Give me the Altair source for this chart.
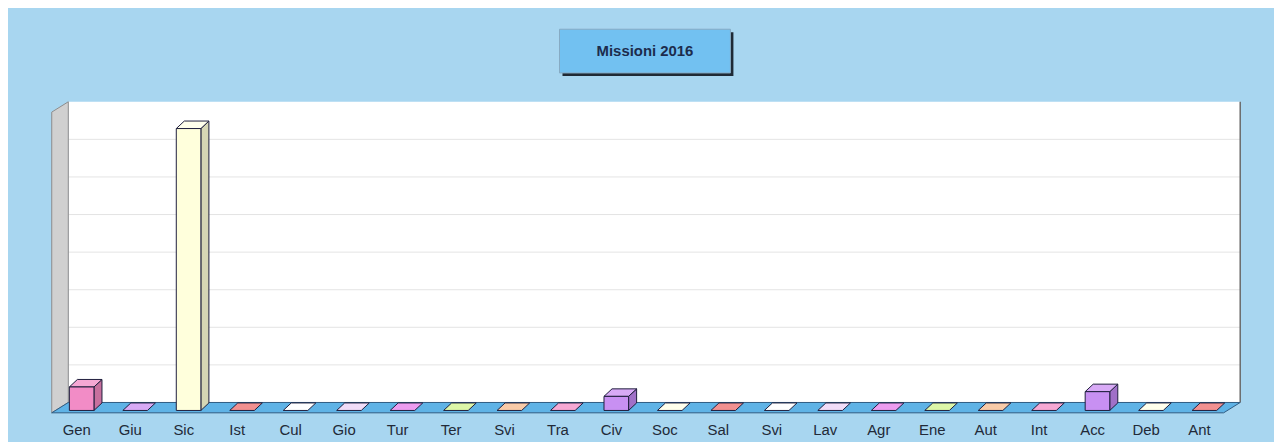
import altair as alt
import pandas as pd

# ---- data ----
categories = ["Gen", "Giu", "Sic", "Ist", "Cul", "Gio", "Tur", "Ter", "Svi", "Tra", "Civ",
              "Soc", "Sal", "Svi", "Lav", "Agr", "Ene", "Aut", "Int", "Acc", "Deb", "Ant"]
values = [5, 0, 60, 0, 0, 0, 0, 0, 0, 0, 3, 0, 0, 0, 0, 0, 0, 0, 0, 4, 0, 0]
grid_values = [8, 16, 24, 32, 40, 48, 56]
title_text = "Missioni 2016"

# ---- styles ----
palette_front = ["#f28cc6", "#c890f2", "#ffffdc", "#ee7070", "#fafaff", "#e8caf6", "#e47ce8", "#c8f084", "#f6b68a"]
palette_side = ["#c8709e", "#a070c8", "#d6d6b4", "#c05858", "#d0d0d8", "#c0a4cc", "#b862bc", "#a0c468", "#c8906c"]
palette_top = ["#f6a8d4", "#d8aaf6", "#ffffec", "#f29090", "#ffffff", "#f0dcf8", "#ec9cf0", "#dcf6a8", "#f8caa8"]
OUTLINE = "#1e1e3c"

# ---- geometry constants (data units) ----
Y_MAX = 64
HW = 0.23          # half bar width
SHIFT = 0.1        # bars sit slightly right of their label
DX, DY = 0.15, 1.6  # bar depth
YB = -1.7          # bar base
X0, X1 = -0.46, 21.77
BOX_DX, BOX_DY = 0.31, 2.2
Y_MIN = -BOX_DY

n = len(categories)
ids = list(range(n))
keys = [str(i % len(palette_front)) for i in ids]
key_domain = [str(i) for i in range(len(palette_front))]

xscale = alt.Scale(domain=[X0, X1], nice=False, zero=False)
yscale = alt.Scale(domain=[Y_MIN, Y_MAX], nice=False, zero=False)
label_array = "[" + ",".join("'" + c + "'" for c in categories) + "]"
xaxis = alt.Axis(values=ids, labelExpr=label_array + "[datum.value]", domain=False, ticks=False,
                 tickSize=0, grid=False, labelPadding=10, labelFontSize=15, labelFont="Liberation Sans",
                 labelColor="#222a38", title=None, labelFlush=False, labelOverlap=False)


def X(field):
    return alt.X(field, type="quantitative", scale=xscale, axis=xaxis)


def Y(field):
    return alt.Y(field, type="quantitative", scale=yscale, axis=None)


# back wall
wall_df = pd.DataFrame({"x": [X0 + BOX_DX], "x2": [X1], "y": [0], "y2": [Y_MAX]})
back_wall = alt.Chart(wall_df).mark_rect(fill="white").encode(
    x=X("x"), x2="x2", y=Y("y"), y2="y2")

grid_df = pd.DataFrame({"y": grid_values, "x": X0 + BOX_DX, "x2": X1})
grid = alt.Chart(grid_df).mark_rule(color="#e4e4e4", strokeWidth=1).encode(
    x=X("x"), x2="x2", y=Y("y"))

right_edge_df = pd.DataFrame({"x": [X1], "y": [0], "y2": [Y_MAX]})
right_edge = alt.Chart(right_edge_df).mark_rule(color="#6a6a6a", strokeWidth=1.5).encode(
    x=X("x"), y=Y("y"), y2="y2")

# left wall (vertical parallelogram)
left_df = pd.DataFrame({"x": [X0, X0 + BOX_DX], "ylo": [Y_MIN, 0], "yhi": [Y_MAX - BOX_DY, Y_MAX]})
left_wall = alt.Chart(left_df).mark_area(fill="#d0d0d0", stroke="#8c8c8c", strokeWidth=1,
                                         orient="vertical").encode(
    x=X("x"), y=Y("ylo"), y2="yhi")

# floor (horizontal parallelogram)
floor_df = pd.DataFrame({"y": [Y_MIN, 0], "xlo": [X0, X0 + BOX_DX], "xhi": [X1 - BOX_DX, X1]})
floor = alt.Chart(floor_df).mark_area(fill="#5fb3e6", stroke="#2f5c82", strokeWidth=1,
                                      orient="horizontal").encode(
    y=Y("y"), x=X("xlo"), x2="xhi")

# bars
bars = pd.DataFrame({"id": ids, "cat": categories, "v": values, "k": keys})
front_df = bars[bars.v > 0].copy()
front_df["x0"] = front_df.id + SHIFT - HW
front_df["x1"] = front_df.id + SHIFT + HW
front_df["y0"] = YB
front_df["y1"] = YB + front_df.v

side_rows = []
top_rows = []
for i, v, k in zip(ids, values, keys):
    c = i + SHIFT
    if v > 0:
        side_rows.append({"id": i, "k": k, "x": c + HW, "ylo": YB, "yhi": YB + v})
        side_rows.append({"id": i, "k": k, "x": c + HW + DX, "ylo": YB + DY, "yhi": YB + v + DY})
    top_rows.append({"id": i, "k": k, "y": YB + v, "xlo": c - HW, "xhi": c + HW})
    top_rows.append({"id": i, "k": k, "y": YB + v + DY, "xlo": c - HW + DX, "xhi": c + HW + DX})
side_df = pd.DataFrame(side_rows)
top_df = pd.DataFrame(top_rows)

side = alt.Chart(side_df).mark_area(stroke=OUTLINE, strokeWidth=1, orient="vertical", opacity=1).encode(
    x=X("x"), y=Y("ylo"), y2="yhi", detail="id:N",
    fill=alt.Fill("k:N", scale=alt.Scale(domain=key_domain, range=palette_side), legend=None))

top = alt.Chart(top_df).mark_area(stroke=OUTLINE, strokeWidth=1, orient="horizontal", opacity=1).encode(
    y=Y("y"), x=X("xlo"), x2="xhi", detail="id:N",
    fill=alt.Fill("k:N", scale=alt.Scale(domain=key_domain, range=palette_top), legend=None))

front = alt.Chart(front_df).mark_rect(stroke=OUTLINE, strokeWidth=1).encode(
    x=X("x0"), x2="x1", y=Y("y0"), y2="y1",
    fill=alt.Fill("k:N", scale=alt.Scale(domain=key_domain, range=palette_front), legend=None))

# title box
one = pd.DataFrame({"t": [title_text]})
shadow = alt.Chart(one).mark_rect(fill="#1f2a36").encode(
    x=alt.value(514), x2=alt.value(686), y=alt.value(-70), y2=alt.value(-26))
box = alt.Chart(one).mark_rect(fill="#72c1f1", stroke="#86aac4", strokeWidth=1).encode(
    x=alt.value(511), x2=alt.value(683), y=alt.value(-73), y2=alt.value(-29))
title = alt.Chart(one).mark_text(font="Liberation Sans", fontSize=15, fontWeight="bold",
                                 color="#1c2c4c", align="center", baseline="middle").encode(
    x=alt.value(597), y=alt.value(-51), text="t:N")

chart = alt.layer(
    back_wall, grid, right_edge, left_wall, floor, side, top, front, shadow, box, title
).resolve_scale(fill="independent").properties(
    width=1196, height=313,
    autosize=alt.AutoSizeParams(type="none"),
    padding={"left": 44, "top": 93, "right": 34, "bottom": 28},
    background="#a8d6f0",
).configure_view(strokeWidth=0, fill=None)

chart.save("out.html", embed_options={"renderer": "svg", "actions": False})
